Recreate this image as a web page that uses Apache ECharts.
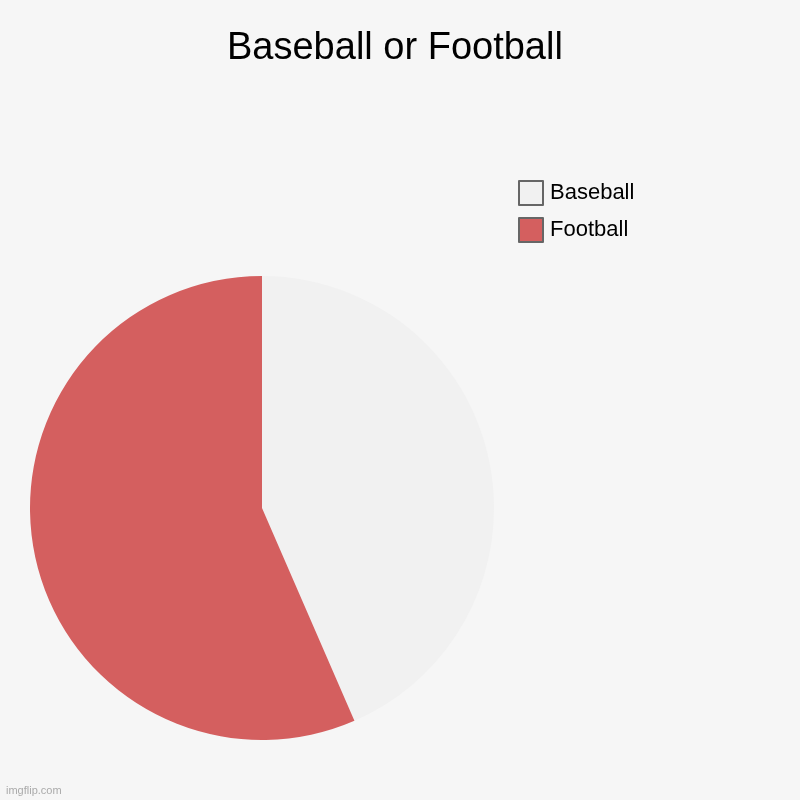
<!DOCTYPE html>
<html>
<head>
<meta charset="utf-8">
<script src="https://cdn.jsdelivr.net/npm/echarts@6/dist/echarts.min.js"></script>
<style>
  html, body { margin: 0; padding: 0; background: #f6f6f6; }
  #chart { width: 800px; height: 800px; }
</style>
</head>
<body>
<div id="chart"></div>
<script>
const categories = ["Baseball", "Football"];
const values = [10, 13];
const colors = ["#f1f1f1", "#d45f5f"];

const chart = echarts.init(document.getElementById("chart"));
chart.setOption({
  backgroundColor: "#f6f6f6",
  animation: false,
  title: {
    text: "Baseball or Football",
    left: 227,
    top: 30,
    padding: 0,
    textStyle: { fontFamily: "Liberation Sans", fontWeight: "normal", fontSize: 38, color: "#000" }
  },
  graphic: [{
    type: "text",
    left: 6,
    top: 785,
    style: { text: "imgflip.com", fontFamily: "Liberation Sans", fontSize: 11, fill: "#aaa" }
  }],
  legend: {
    orient: "vertical",
    left: 518,
    top: 180,
    padding: 0,
    icon: "rect",
    itemWidth: 24,
    itemHeight: 24,
    itemGap: 11,
    itemStyle: { borderColor: "#666", borderWidth: 2 },
    textStyle: { fontFamily: "Liberation Sans", fontSize: 22, color: "#000", padding: [0, 0, 0, 2] },
    data: categories
  },
  series: [{
    type: "pie",
    center: [262, 508],
    radius: 232,
    startAngle: 90,
    clockwise: true,
    silent: true,
    label: { show: false },
    labelLine: { show: false },
    data: categories.map((c, i) => ({ name: c, value: values[i], itemStyle: { color: colors[i] } }))
  }]
});
</script>
</body>
</html>
